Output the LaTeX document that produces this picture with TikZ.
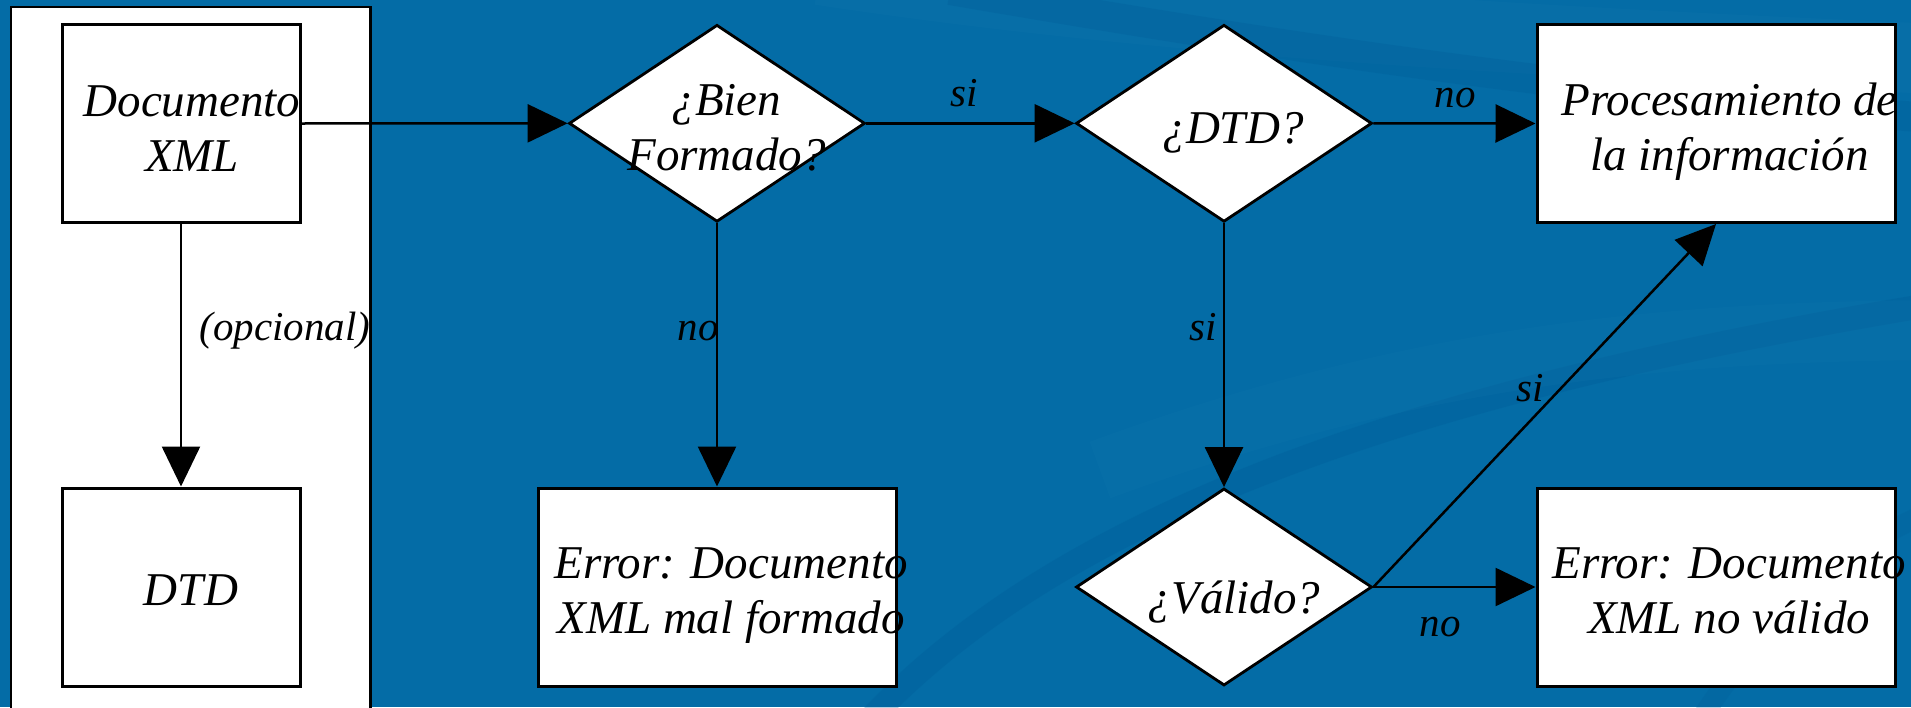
\documentclass[tikz,border=0pt]{standalone}
\usepackage{fontspec}
\setmainfont{Liberation Serif}
\usetikzlibrary{shapes.geometric,arrows.meta}

\definecolor{oceanbg}{RGB}{4,108,166}
\definecolor{oceandark}{RGB}{0,90,150}
\definecolor{oceanlight}{RGB}{28,128,178}

\tikzset{
  box/.style={draw=black, fill=white, line width=3pt, rectangle,
    minimum width=358pt, minimum height=198pt, inner sep=0pt},
  smallbox/.style={box, minimum width=238pt},
  decision/.style={draw=black, fill=white, line width=2.8pt, diamond,
    minimum width=296pt, minimum height=197pt, inner sep=0pt},
  txt/.style={font=\fontsize{47}{55}\selectfont\itshape, align=center,
    inner sep=0pt, anchor=base},
  lbl/.style={font=\fontsize{41}{48}\selectfont\itshape,
    inner sep=0pt, anchor=base},
  flow/.style={draw=black, line width=2.5pt,
    -{Triangle[length=40pt,width=38pt]}},
}

\begin{document}
\begin{tikzpicture}[x=1pt, y=-1pt]
  \useasboundingbox (0,0) rectangle (1911,707);

  % ocean backdrop with soft streaks
  \begin{scope}
    \clip (0,0) rectangle (1911,707);
    \fill[oceanbg] (0,0) rectangle (1911,707);
    \draw[oceanlight, line width=70pt, opacity=0.15]
      (820,-30) .. controls (1150,20) and (1500,40) .. (1960,60);
    \draw[oceandark, line width=30pt, opacity=0.25]
      (950,-10) .. controls (1300,50) and (1600,95) .. (1960,120);
    \draw[oceandark, line width=24pt, opacity=0.28]
      (860,730) .. controls (1050,520) and (1400,390) .. (1960,300);
    \draw[oceanlight, line width=60pt, opacity=0.12]
      (1100,470) .. controls (1400,360) and (1650,330) .. (1960,330);
    \draw[oceandark, line width=20pt, opacity=0.22]
      (1700,720) .. controls (1780,600) and (1850,540) .. (1960,500);

    % white panel on the left
    \draw[draw=black, fill=white, line width=2.6pt] (11,7) rectangle (370.5,740);
  \end{scope}

  % shapes
  \node[smallbox] (doc) at (181,123.5) {};
  \node[smallbox] (dtdfile) at (181,587) {};
  \node[decision] (bien) at (717,123.3) {};
  \node[decision] (hasdtd) at (1224,123.3) {};
  \node[decision] (valido) at (1224,587) {};
  \node[box] (malformado) at (717,587) {};
  \node[box] (proceso) at (1716,123.5) {};
  \node[box] (novalido) at (1716,587) {};

  % connectors
  \draw[flow] (doc.east) -- (bien.west);
  \draw[flow] (doc.south) -- (dtdfile.north);
  \draw[flow] (bien.east) -- (hasdtd.west);
  \draw[flow] (bien.south) -- (malformado.north);
  \draw[flow] (hasdtd.east) -- (proceso.west);
  \draw[flow] (hasdtd.south) -- (valido.north);
  \draw[flow] (valido.east) -- (novalido.west);
  \draw[flow] (valido.east) -- (proceso.south);

  % texts of the shapes (base anchor sits on the last line)
  \node[txt] (docT) at (192,171) {Documento\\XML};
  \node[txt] (dtdfileT) at (191,605.5) {DTD};
  \node[txt] (bienT) at (726.5,170) {¿Bien\\Formado?};
  \node[txt] (hasdtdT) at (1233,143.4) {¿DTD?};
  \node[txt] (validoT) at (1234,613) {¿Válido?};
  \node[txt] (malformadoT) at (731,633.5) {Error: Documento\\XML mal formado};
  \node[txt] (procesoT) at (1729.5,170.5) {Procesamiento de\\la información};
  \node[txt] (novalidoT) at (1729,633.5) {Error: Documento\\XML no válido};

  % connector labels
  \node[lbl] (lOpc) at (285,340) {(opcional)};
  \node[lbl] (lSi1) at (964,106) {si};
  \node[lbl] (lNo1) at (698,340) {no};
  \node[lbl] (lSi2) at (1203,340) {si};
  \node[lbl] (lNo2) at (1455,107) {no};
  \node[lbl] (lSi3) at (1530,401) {si};
  \node[lbl] (lNo3) at (1440,636) {no};
\end{tikzpicture}
\end{document}
